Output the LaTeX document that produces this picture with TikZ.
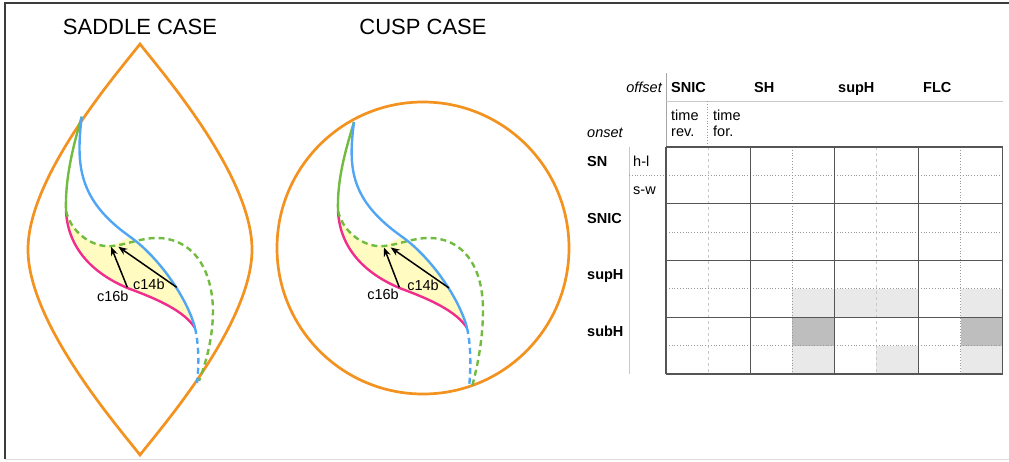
\documentclass[tikz,border=0pt]{standalone}
\usepackage{fontspec}
\setmainfont{Liberation Sans}
\usetikzlibrary{arrows.meta}
\definecolor{corange}{RGB}{243,146,30}
\definecolor{cblue}{RGB}{80,166,245}
\definecolor{cgreen}{RGB}{112,187,64}
\definecolor{cpink}{RGB}{240,45,140}
\definecolor{cyellow}{RGB}{255,251,193}
\definecolor{shadeL}{RGB}{233,233,233}
\definecolor{shadeD}{RGB}{190,190,190}
\definecolor{gridD}{RGB}{85,85,85}
\definecolor{gridL}{RGB}{200,200,200}
\definecolor{frameD}{RGB}{60,60,60}
\begin{document}
\begin{tikzpicture}[x=1pt,y=-1pt,
  bound/.style={draw=corange,line width=2.7pt},
  crv/.style={line width=2.4pt},
  dsh/.style={dash pattern=on 6pt off 4pt},
  arr/.style={-{Stealth[length=9pt,width=7pt]},line width=1.5pt,draw=black},
  lbl/.style={font=\fontsize{14.5}{17}\selectfont,inner sep=0pt,anchor=base},
  ttl/.style={font=\fontsize{22}{26}\selectfont,inner sep=0pt,anchor=base},
  tb/.style={font=\fontsize{14.5}{17}\selectfont,inner sep=0pt,anchor=base west},
  tbb/.style={font=\fontsize{14.5}{17}\selectfont\bfseries,inner sep=0pt,anchor=base west},
  tbi/.style={font=\fontsize{14.5}{17}\selectfont\itshape,inner sep=0pt},
  major/.style={draw=gridD,line width=1.2pt},
  minor/.style={draw=gray!80,dotted,line width=0.8pt},
  minorL/.style={draw=gridL,dashed,line width=0.7pt}]
\useasboundingbox (0,0) rectangle (1009,461);
% frame
\draw[frameD,line width=1.5pt] (1009,3) -- (5,3) -- (5,459);
\draw[gridL!60,line width=1pt] (5,459.5) -- (1009,459.5);

% titles
\node[ttl] (t1) at (140,34) {SADDLE CASE};
\node[ttl] (t2) at (423,34) {CUSP CASE};

% ---------- saddle case ----------
\draw[bound] (140,44) .. controls (120,70) and (28,175) .. (28,249.5)
  .. controls (28,324) and (120,429) .. (140,455)
  .. controls (160,429) and (252,324) .. (252,249.5)
  .. controls (252,175) and (160,70) .. (140,44) -- cycle;
\fill[cyellow] (66,211) .. controls (68,250) and (95,275) .. (130,289)
  .. controls (160,300) and (185,312) .. (195,328)
  .. controls (188,300) and (160,258) .. (130,236.7) -- (114,245)
  .. controls (95,248) and (72,235) .. (66,211) -- cycle;
\draw[crv,cpink] (66,211) .. controls (68,250) and (95,275) .. (130,289)
  .. controls (160,300) and (185,312) .. (195,328);
\draw[crv,cgreen] (81.7,116.7) .. controls (72,150) and (65,180) .. (66,211);
\draw[crv,cgreen,dsh] (66,211) .. controls (72,235) and (95,248) .. (112,246)
  .. controls (130,244) and (140,238) .. (157,238)
  .. controls (190,238) and (212,265) .. (213,310)
  .. controls (213,340) and (205,365) .. (199,381);
\draw[crv,cblue] (81.7,116.7) .. controls (76,165) and (78,200) .. (130,236.7)
  .. controls (160,258) and (188,300) .. (195,328);
\draw[crv,cblue,dsh] (195,328) .. controls (199,345) and (199,365) .. (197,383);
\coordinate (sa1) at (127.3,287.3);
\coordinate (sa1h) at (111,246.7);
\coordinate (sa2) at (176.7,287.3);
\coordinate (sa2h) at (118.3,246.7);
\draw[arr] (sa1) -- (sa1h);
\draw[arr] (sa2) -- (sa2h);
\node[lbl] (sl1) at (112.8,301.7) {c16b};
\node[lbl] (sl2) at (148.9,289.3) {c14b};

% ---------- cusp case ----------
\draw[bound] (423,248) circle[radius=146];
\begin{scope}[shift={(272,0)}]
\fill[cyellow] (66,211) .. controls (68,250) and (95,275) .. (130,289)
  .. controls (160,300) and (185,312) .. (195,328)
  .. controls (188,300) and (160,258) .. (130,236.7) -- (114,245)
  .. controls (95,248) and (72,235) .. (66,211) -- cycle;
\draw[crv,cpink] (66,211) .. controls (68,250) and (95,275) .. (130,289)
  .. controls (160,300) and (185,312) .. (195,328);
\draw[crv,cgreen] (82,122) .. controls (73,152) and (65,180) .. (66,211);
\draw[crv,cgreen,dsh] (66,211) .. controls (72,235) and (95,248) .. (112,246)
  .. controls (130,244) and (140,238) .. (157,238)
  .. controls (190,238) and (211,265) .. (211,310)
  .. controls (211,340) and (205,368) .. (200,387);
\draw[crv,cblue] (82,122) .. controls (76,168) and (78,200) .. (130,236.7)
  .. controls (160,258) and (188,300) .. (195,328);
\draw[crv,cblue,dsh] (195,328) .. controls (199,345) and (199,368) .. (197,388);
\coordinate (ca1) at (127.3,287.3);
\coordinate (ca1h) at (112,247.5);
\coordinate (ca2) at (177,288);
\coordinate (ca2h) at (118.7,247.5);
\draw[arr] (ca1) -- (ca1h);
\draw[arr] (ca2) -- (ca2h);
\node[lbl] (cl1) at (111,299.5) {c16b};
\node[lbl] (cl2) at (151,290.7) {c14b};
\end{scope}

% ---------- table ----------
% shaded cells
\foreach \c/\r/\col in {3/5/shadeL,4/5/shadeL,5/5/shadeL,7/5/shadeL,
  3/6/shadeD,7/6/shadeD,3/7/shadeL,5/7/shadeL,7/7/shadeL}
  \fill[\col] ({666+42.09*\c},{147+28.375*\r}) rectangle ({666+42.09*(\c+1)},{147+28.375*(\r+1)});
% header lines
\draw[gray!70,line width=1pt] (666,73) -- (666,147);
\draw[gridL,line width=0.9pt] (666,101) -- (1003,101);
\draw[gray!80,dotted,line width=0.8pt] (707.5,101) -- (707.5,147);
\draw[gridL,line width=0.9pt] (629,147) -- (629,374);
\draw[gray!80,dotted,line width=0.8pt] (629,175.4) -- (666,175.4);
% minor lines
\foreach \i in {1,5}
  \draw[minorL] ({666+42.09*\i},147) -- ({666+42.09*\i},374);
\foreach \i in {3,7}
  \draw[minor] ({666+42.09*\i},147) -- ({666+42.09*\i},374);
\foreach \j in {1,3,5,7}
  \draw[minor] (666,{147+28.375*\j}) -- (1003,{147+28.375*\j});
% major lines
\foreach \i in {0,2,4,6,8}
  \draw[major] ({666+42.09*\i},147) -- ({666+42.09*\i},374);
\foreach \j in {0,2,4,6,8}
  \draw[major] (666,{147+28.375*\j}) -- (1003,{147+28.375*\j});

% header texts
\node[tbi,anchor=base east] (hoff) at (662,92) {offset};
\node[tbb] (h1) at (671,92) {SNIC};
\node[tbb] (h2) at (754,92) {SH};
\node[tbb] (h3) at (838,92) {supH};
\node[tbb] (h4) at (923,92) {FLC};
\node[tb] (tr1) at (671,120) {time};
\node[tb] (tr2) at (671,136.7) {rev.};
\node[tb] (tf1) at (713,120) {time};
\node[tb] (tf2) at (713,136.7) {for.};
\node[tbi,anchor=base west] (hon) at (587,137) {onset};
% row texts
\node[tbb] (r1) at (587,166) {SN};
\node[tb] (r1a) at (633,166) {h-l};
\node[tb] (r1b) at (633,194) {s-w};
\node[tbb] (r2) at (587,223) {SNIC};
\node[tbb] (r3) at (587,279.5) {supH};
\node[tbb] (r4) at (587,336) {subH};
\end{tikzpicture}
\end{document}
